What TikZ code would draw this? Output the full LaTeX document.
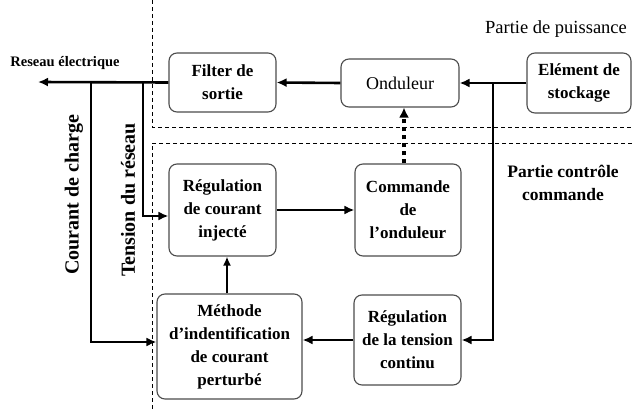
\documentclass[tikz,border=0pt]{standalone}
\usepackage{fontspec}
\setmainfont{Liberation Serif}
\usetikzlibrary{arrows.meta,calc}
\begin{document}
\begin{tikzpicture}[x=1pt,y=-1pt,
  box/.style={draw=black!70,line width=1.1pt,rounded corners=8pt,align=center,
    font=\fontsize{17}{23}\selectfont\bfseries,inner sep=2pt},
  conn/.style={line width=2.6pt,-{Latex[length=10pt,width=9pt]}},
  thinconn/.style={line width=1.8pt,-{Latex[length=9pt,width=8pt]}},
  sep/.style={line width=0.9pt,dash pattern=on 4pt off 3pt},
  lbl/.style={font=\fontsize{20}{23}\selectfont\bfseries}]
\useasboundingbox (0,0) rectangle (632,412);
% separators
\draw[sep] (152,0) -- (152,127) -- (632,127);
\draw[sep] (632,143) -- (152,143) -- (152,412);
% boxes
\node[box,minimum width=107pt,minimum height=59pt] (filt) at (222.5,82.5) {Filter de\\sortie};
\node[box,minimum width=118pt,minimum height=48pt,font=\fontsize{18}{23}\selectfont] (ond) at (400,83) {Onduleur};
\node[box,minimum width=104pt,minimum height=60pt] (stock) at (579,83) {Elément de\\stockage};
\node[box,minimum width=107pt,minimum height=92pt] (regc) at (222.5,210) {Régulation\\de courant\\injecté};
\node[box,minimum width=106pt,minimum height=92pt] (cmd) at (408,210) {Commande\\de\\l’onduleur};
\node[box,minimum width=145pt,minimum height=105pt] (meth) at (229.5,346.5) {Méthode\\d’indentification\\de courant\\perturbé};
\node[box,minimum width=107pt,minimum height=90pt] (regt) at (407.5,340) {Régulation\\de la tension\\continu};
% texts
\node[font=\fontsize{14.5}{16}\selectfont\bfseries] (restxt) at (65,63) {Reseau électrique};
\node[font=\fontsize{18.5}{22}\selectfont,inner sep=1pt] (pp) at (556,29) {Partie de puissance};
\node[align=center,font=\fontsize{17.5}{23}\selectfont\bfseries] (pc) at (563,183) {Partie contrôle\\commande};
\node[lbl,rotate=90] (cc) at (74,195) {Courant de charge};
\node[lbl,rotate=90] (tr) at (128,200) {Tension du réseau};
% junctions
\coordinate (res) at (38,82);
\coordinate (j1) at (91,82);
\coordinate (j2) at (143,82);
\coordinate (j3) at (493,83);
% connectors
\draw[conn] (stock.west) -- (ond.east);
\draw[conn] (ond.west) -- (filt.east);
\draw[conn] (filt.west) -- (res);
\draw[conn] (j1) |- ([yshift=4.5pt]meth.west);
\draw[conn] (j2) |- ([yshift=-6pt]regc.west);
\draw[conn] (regc.east) -- (cmd.west);
\draw[line width=4pt,dash pattern=on 4pt off 4pt,-{Latex[length=10pt,width=10pt]}]
  ([xshift=-4pt]cmd.north) -- ([xshift=-4pt]cmd.north |- ond.south);
\draw[thinconn] ([xshift=-2.5pt]meth.north) -- ([xshift=-2.5pt]meth.north |- regc.south);
\draw[conn] (regt.west) -- (regt.west -| meth.east);
\draw[conn] (j3) |- (regt.east);
\end{tikzpicture}
\end{document}
